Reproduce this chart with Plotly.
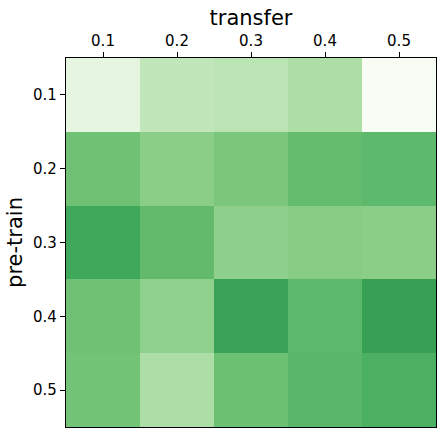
import plotly.graph_objects as go

transfer = ["0.1", "0.2", "0.3", "0.4", "0.5"]
pretrain = ["0.1", "0.2", "0.3", "0.4", "0.5"]

# rows = pre-train, cols = transfer (colormap position 0..1)
row_01 = [0.125, 0.27, 0.29, 0.339, 0.0]
row_02 = [0.512, 0.439, 0.483, 0.54, 0.556]
row_03 = [0.633, 0.544, 0.428, 0.447, 0.439]
row_04 = [0.512, 0.425, 0.66, 0.559, 0.667]
row_05 = [0.502, 0.335, 0.522, 0.564, 0.60]

greens = [
    [0.0, "#f7fcf5"], [0.125, "#e5f5e0"], [0.25, "#c7e9c0"],
    [0.375, "#a1d99b"], [0.5, "#74c476"], [0.625, "#41ab5d"],
    [0.75, "#238b45"], [0.875, "#006d2c"], [1.0, "#00441b"],
]

fig = go.Figure()
fig.add_trace(go.Heatmap(
    z=[row_01, row_02, row_03, row_04, row_05],
    x=transfer,
    y=pretrain,
    colorscale=greens,
    zmin=0, zmax=1,
    showscale=False,
))

fig.update_layout(
    width=439, height=429,
    margin=dict(l=66, r=3, t=58, b=2),
    paper_bgcolor="white",
    plot_bgcolor="white",
    font=dict(family="DejaVu Sans", size=15, color="black"),
    xaxis=dict(
        side="top", automargin=False,
        title=dict(text="transfer", font=dict(size=21), standoff=0),
        ticks="outside", ticklen=5, tickcolor="black",
        showline=True, linecolor="black", linewidth=1.3, mirror=True,
        showgrid=False, zeroline=False,
    ),
    yaxis=dict(
        autorange="reversed", automargin=False,
        title=dict(text="pre-train", font=dict(size=21), standoff=4),
        ticks="outside", ticklen=5, tickcolor="black",
        showline=True, linecolor="black", linewidth=1.3, mirror=True,
        showgrid=False, zeroline=False,
    ),
)

# drop the default page margin so the figure sits at the window corner
fig.write_html("out.html", config={"displayModeBar": False},
               post_script="document.body.style.margin='0';")
